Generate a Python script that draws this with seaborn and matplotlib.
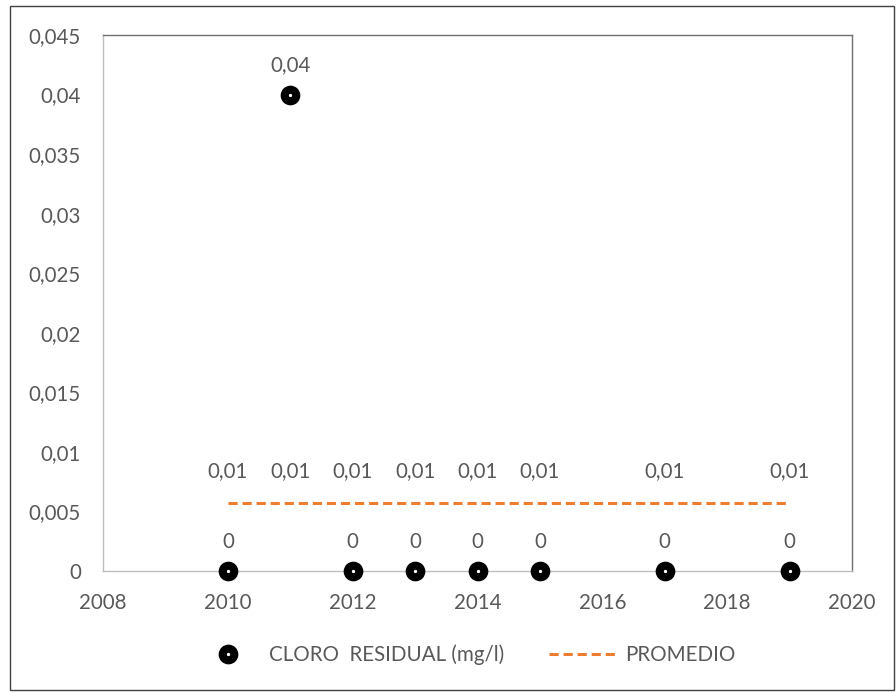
import numpy as np
import pandas as pd
import matplotlib
matplotlib.use("Agg")
import matplotlib.pyplot as plt
from matplotlib.patches import Rectangle
from matplotlib.lines import Line2D
from matplotlib.ticker import FuncFormatter
import seaborn as sns

years = [2010, 2011, 2012, 2013, 2014, 2015, 2017, 2019]
cloro = [0, 0.04, 0, 0, 0, 0, 0, 0]
promedio = [0.0057, 0.0057, 0.0057, 0.0057, 0.0057, 0.0057, 0.0057, 0.0057]
cloro_labels = ["0", "0,04", "0", "0", "0", "0", "0", "0"]
prom_labels = ["0,01"] * 8

df = pd.DataFrame({"anio": years, "cloro": cloro, "promedio": promedio})

sns.set_style("white")
plt.rcParams["font.family"] = ["Lato", "DejaVu Sans"]
txt = "#595959"
orange = "#ED7D31"
fs = 14.8

fig = plt.figure(figsize=(8.96, 6.92), dpi=100)
ax = fig.add_axes([103 / 896, 1 - 571 / 692, (852 - 103) / 896, (571 - 35) / 692])

sns.lineplot(data=df, x="anio", y="promedio", ax=ax, color=orange,
             linestyle=(0, (3, 1.6)), linewidth=2.2, legend=False)
sns.scatterplot(data=df, x="anio", y="cloro", ax=ax, s=70, color="white",
                edgecolor="black", linewidth=5.8, zorder=5, legend=False, clip_on=False)

for x, y, lab in zip(years, cloro, cloro_labels):
    ax.annotate(lab, (x, y), xytext=(0, 14), textcoords="offset points",
                ha="center", va="bottom", fontsize=fs, color=txt)
for x, y, lab in zip(years, promedio, prom_labels):
    ax.annotate(lab, (x, y), xytext=(0, 15.5), textcoords="offset points",
                ha="center", va="bottom", fontsize=fs, color=txt)

ax.set_xlim(2008, 2020)
ax.set_ylim(0, 0.045)
ax.set_xticks(np.arange(2008, 2021, 2))
ax.set_yticks(np.arange(0, 0.0451, 0.005))
ax.yaxis.set_major_formatter(FuncFormatter(
    lambda v, p: "0" if abs(v) < 1e-12 else f"{v:.3f}".rstrip("0").replace(".", ",")))
ax.tick_params(axis="both", length=0, labelsize=fs, labelcolor=txt)
ax.tick_params(axis="x", pad=16)
ax.tick_params(axis="y", pad=16)
ax.set_xlabel("")
ax.set_ylabel("")
for sp in ax.spines.values():
    sp.set_linewidth(1.0)
ax.spines["top"].set_color("#707070")
ax.spines["right"].set_color("#707070")
ax.spines["left"].set_color("#BFBFBF")
ax.spines["bottom"].set_color("#BFBFBF")

handles = [
    Line2D([], [], marker="o", linestyle="none", markersize=8.4, markerfacecolor="white",
           markeredgecolor="black", markeredgewidth=5.8),
    Line2D([], [], color=orange, linestyle=(0, (3, 1.6)), linewidth=2.2),
]
fig.legend(handles, ["CLORO  RESIDUAL (mg/l)", "PROMEDIO"], loc="center",
           bbox_to_anchor=(0.518, 1 - 655 / 692), ncol=2, frameon=False,
           fontsize=fs, labelcolor=txt, columnspacing=2.2, handlelength=3.4,
           handletextpad=0.3)

fig.patches.append(Rectangle((10 / 896, 2 / 692), 884 / 896, 684 / 692,
                             transform=fig.transFigure, fill=False,
                             edgecolor="#404040", linewidth=1.0))

fig.savefig("out.png", dpi=100)
